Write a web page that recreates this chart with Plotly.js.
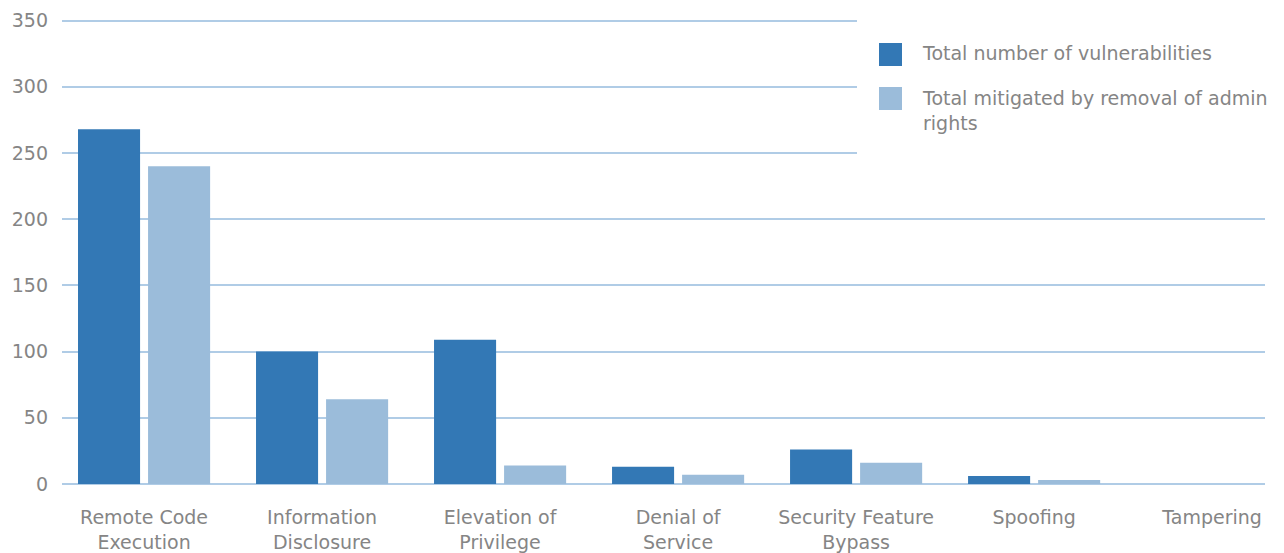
<!DOCTYPE html>
<html>
<head>
<meta charset="utf-8">
<script src="https://cdn.plot.ly/plotly-3.0.1.min.js"></script>
<style>html,body{margin:0;padding:0;background:#fff;}#chart{width:1284px;height:553px;}</style>
</head>
<body>
<div id="chart"></div>
<script>
const categories = ["Remote Code<br>Execution", "Information<br>Disclosure", "Elevation of<br>Privilege", "Denial of<br>Service", "Security Feature<br>Bypass", "Spoofing", "Tampering"];
const totalVulns = [268, 100, 109, 13, 26, 6, 0];
const mitigated = [240, 64, 14, 7, 16, 3, 0];
const seriesNames = ["Total number of vulnerabilities", "Total mitigated by removal of admin<br>rights"];
const seriesColors = ["#3378b5", "#9bbcda"];
const yTicks = [0, 50, 100, 150, 200, 250, 300, 350];

const FONT = "DejaVu Sans, sans-serif";
const GRAY = "#858585";
const FS = 19;
const GRID = "#b0cce6";

const traces = [
  {type: "bar", x: categories, y: totalVulns, name: seriesNames[0], marker: {color: seriesColors[0]}, showlegend: false},
  {type: "bar", x: categories, y: mitigated, name: seriesNames[1], marker: {color: seriesColors[1]}, showlegend: false}
];

// plot area geometry (pixels)
const L = 62, R = 1265, T = 18, B = 484;
const YMAX = 352;
const px = v => (v - L) / (R - L);
const py = v => (B - v) / (B - T);

const legendRows = [
  {sq: [43, 66], text: 53},
  {sq: [87, 110], text: 110}
];

const shapes = [
  {type: "rect", xref: "paper", yref: "paper", x0: px(857), x1: px(1290), y0: py(170), y1: py(5),
   fillcolor: "#fff", line: {width: 0}, layer: "above"}
];
const annotations = [];
legendRows.forEach((r, i) => {
  shapes.push({type: "rect", xref: "paper", yref: "paper", x0: px(879), x1: px(902), y0: py(r.sq[1]), y1: py(r.sq[0]),
    fillcolor: seriesColors[i], line: {width: 0}, layer: "above"});
  annotations.push({xref: "paper", yref: "paper", x: px(920), y: py(r.text), xanchor: "left", yanchor: "middle",
    align: "left", showarrow: false, text: seriesNames[i], font: {family: FONT, size: FS, color: GRAY}});
});

const layout = {
  width: 1284, height: 553,
  margin: {l: L, r: 1284 - R, t: T, b: 553 - B, autoexpand: false},
  paper_bgcolor: "#fff", plot_bgcolor: "#fff",
  font: {family: FONT, size: FS, color: GRAY},
  barmode: "group", bargap: 0.213, bargroupgap: 0.114,
  xaxis: {
    type: "category", range: [-0.461, 6.297], showgrid: false, showline: false, zeroline: false,
    ticks: "", tickfont: {family: FONT, size: FS, color: GRAY}, ticklabelstandoff: 20
  },
  yaxis: {
    range: [0, YMAX], tickvals: yTicks, showgrid: true, gridcolor: GRID, gridwidth: 2,
    zeroline: true, zerolinecolor: GRID, zerolinewidth: 2, showline: false, ticks: "",
    tickfont: {family: FONT, size: FS, color: GRAY}, ticklabelstandoff: 13
  },
  showlegend: false,
  shapes: shapes,
  annotations: annotations
};

Plotly.newPlot("chart", traces, layout, {displayModeBar: false, staticPlot: true});
</script>
</body>
</html>
